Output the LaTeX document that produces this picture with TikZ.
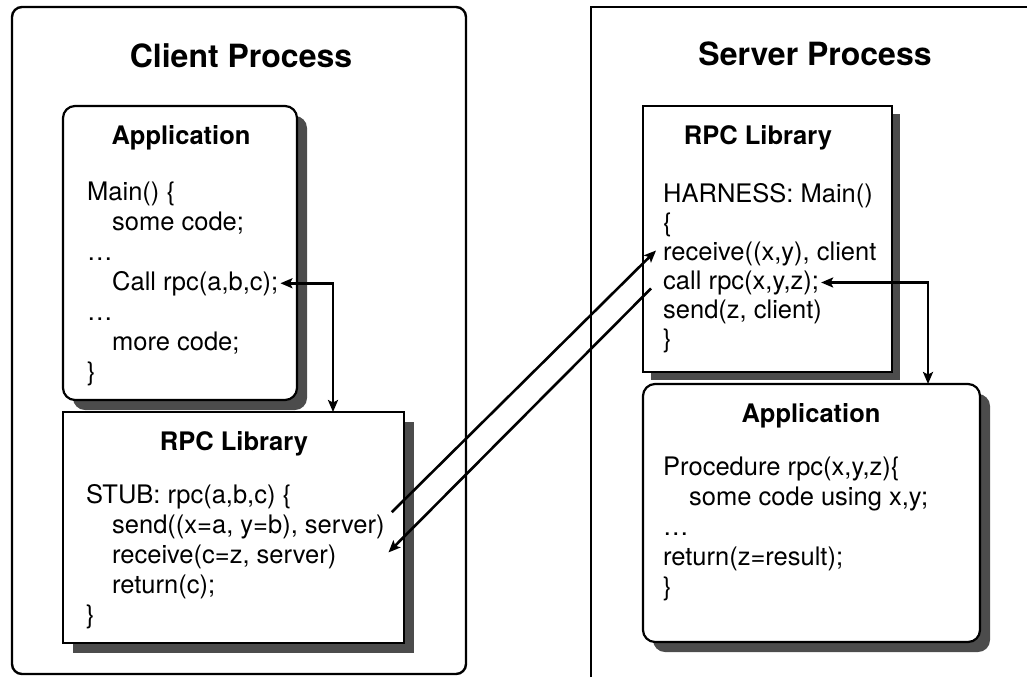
\documentclass[tikz,border=0pt]{standalone}
\usepackage{fontspec}
\setmainfont{TeX Gyre Heros}
\usetikzlibrary{shadows,arrows.meta}
\begin{document}
\begin{tikzpicture}[x=1pt,y=-1pt,
  code/.style={anchor=base west, inner xsep=2pt, inner ysep=2pt, font=\fontsize{25.5}{30}\selectfont},
  ttl/.style={anchor=base, inner sep=2pt, font=\bfseries\fontsize{25.5}{30}\selectfont},
  bigttl/.style={anchor=base, inner sep=2pt, font=\bfseries\fontsize{32}{38}\selectfont},
  shd/.style={drop shadow={shadow xshift=#1, shadow yshift=-#1, fill=black!70, opacity=1}},
  shd/.default=10pt,
  box/.style={draw, line width=2.2pt, fill=white, anchor=north west, inner sep=0pt, outer sep=0pt},
  rbox/.style={box, rounded corners=12pt},
  tip/.tip={Stealth[length=12pt,width=10pt,inset=2.5pt]},
  conn/.style={line width=2.6pt, -tip},
  conn2/.style={line width=2.6pt, tip-tip}]

\useasboundingbox (0,0) rectangle (1027,677);

% outer frames
\node[draw, line width=2.4pt, rounded corners=10pt, anchor=north west,
      minimum width=454pt, minimum height=667pt, inner sep=0pt, outer sep=0pt] (client) at (12,7) {};
\coordinate (sbl) at (591,677);
\coordinate (stl) at (591,7);
\coordinate (str) at (1027,7);
\draw[line width=1.8pt] (sbl) -- (stl) -- (str);

\node[bigttl] (ctitle) at (241,67) {Client Process};
\node[bigttl] (stitle) at (815,65) {Server Process};

% client application
\node[rbox, shd, minimum width=234pt, minimum height=294pt] (capp) at (63,106) {};
\node[ttl] (capptitle) at (181,144) {Application};
\node[code] (cmain) at (85,200) {Main() \{};
\node[code] (csome) at (110,230) {some code;};
\node[code] (cdots1) at (85,260) {…};
\node[code] (ccall) at (110,290) {Call rpc(a,b,c);};
\node[code] (cdots2) at (85,320) {…};
\node[code] (cmore) at (110,350) {more code;};
\node[code] (cend) at (85,380) {\}};

% client rpc library
\node[box, shd, minimum width=341pt, minimum height=231pt] (clib) at (63,412) {};
\node[ttl] (clibtitle) at (234,450) {RPC Library};
\node[code] (cstub) at (84,503) {STUB: rpc(a,b,c) \{};
\node[code] (csend) at (110,533) {send((x=a, y=b), server)};
\node[code] (crecv) at (110,563) {receive(c=z, server)};
\node[code] (cret) at (110,593) {return(c);};
\node[code] (cend2) at (84,623) {\}};

% server rpc library
\node[box, shd=8pt, minimum width=249pt, minimum height=266pt] (slib) at (643,106) {};
\node[ttl] (slibtitle) at (758,144) {RPC Library};
\node[code] (sharn) at (661,202) {HARNESS: Main()};
\node[code] (sopen) at (661,231) {\{};
\node[code] (srecv) at (661,260) {receive((x,y), client};
\node[code] (scall) at (661,289) {call rpc(x,y,z);};
\node[code] (ssend) at (661,318) {send(z, client)};
\node[code] (send2) at (661,347) {\}};

% server application
\node[rbox, shd, minimum width=337pt, minimum height=258pt] (sapp) at (643,384) {};
\node[ttl] (sapptitle) at (811,422) {Application};
\node[code] (sproc) at (661,475) {Procedure rpc(x,y,z)\{};
\node[code] (ssome) at (687,505) {some code using x,y;};
\node[code] (sdots) at (661,535) {…};
\node[code] (sret) at (661,565) {return(z=result);};
\node[code] (send3) at (661,595) {\}};

% connectors
\path (clib.north west) ++(270,0) coordinate (cj);
\draw[conn2] (ccall.east) -| (cj);
\path (sapp.north west) ++(285,0) coordinate (sj);
\draw[conn2] (scall.east) -| (sj);

\draw[conn] ([shift={(5,0)}]csend.north east) -- ([shift={(-5,-3)}]srecv.west);
\draw[conn] ([shift={(-10,6)}]scall.west) -- ([shift={(50,-4)}]crecv.east);
\end{tikzpicture}
\end{document}
